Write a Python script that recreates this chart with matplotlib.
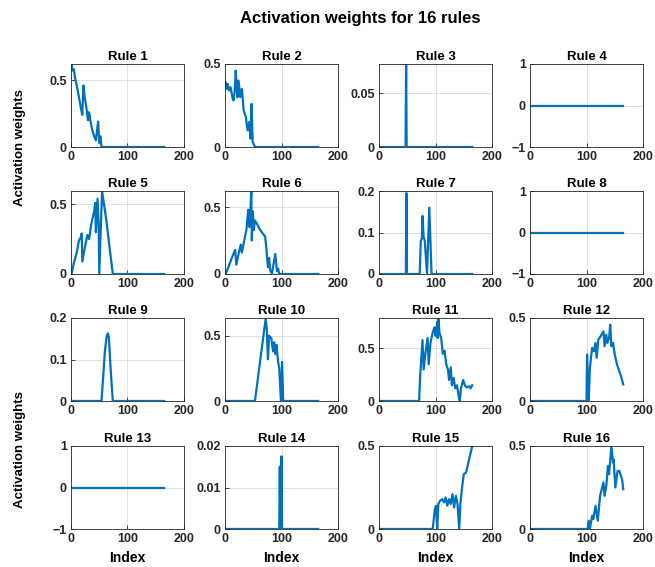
import numpy as np
import matplotlib
matplotlib.use("Agg")
import matplotlib.pyplot as plt

plt.rcParams['font.family'] = ['Liberation Sans', 'DejaVu Sans']
plt.rcParams['font.weight'] = 'bold'

# breakpoints (index, activation weight)
r1_x = [1, 3, 5, 7, 9, 12, 15, 18, 20, 22, 24, 27, 30, 32, 35, 38, 41, 44, 46, 48, 50, 52, 54, 165]
r1_y = [0.62, 0.57, 0.58, 0.52, 0.48, 0.42, 0.35, 0.28, 0.24, 0.46, 0.38, 0.30, 0.20, 0.26,
        0.18, 0.12, 0.08, 0.05, 0.12, 0.19, 0.03, 0.08, 0, 0]

r2_x = [1, 3, 5, 7, 10, 13, 15, 17, 19, 21, 22, 24, 27, 30, 33, 37, 40, 43, 45, 47, 49, 53, 165]
r2_y = [0.39, 0.35, 0.38, 0.34, 0.36, 0.30, 0.28, 0.33, 0.46, 0.35, 0.30, 0.40, 0.30, 0.35,
        0.22, 0.18, 0.10, 0.15, 0.05, 0.26, 0.03, 0, 0]

r3_x = [1, 47, 48, 49, 165]
r3_y = [0, 0, 0.077, 0, 0]

r4_x = [1, 165]
r4_y = [0, 0]

r5_x = [1, 5, 10, 14, 17, 19, 20, 25, 29, 32, 36, 41, 43, 44, 47, 49, 50, 55, 62, 68, 74, 165]
r5_y = [0, 0.08, 0.15, 0.24, 0.26, 0.29, 0.09, 0.20, 0.28, 0.25, 0.36, 0.45, 0.51, 0.30,
        0.54, 0.35, 0, 0.595, 0.40, 0.20, 0, 0]

r6_x = [1, 6, 12, 18, 20, 24, 28, 30, 34, 38, 41, 43, 45, 46.5, 47.5, 49, 51, 53, 56, 62,
        71, 73, 76, 78, 80, 83, 89, 92, 94, 96, 165]
r6_y = [0, 0.05, 0.12, 0.18, 0.07, 0.15, 0.22, 0.16, 0.25, 0.33, 0.48, 0.35, 0.48, 0.62,
        0.25, 0.47, 0.33, 0.40, 0.38, 0.33, 0.28, 0.20, 0.05, 0.12, 0.03, 0, 0.15, 0.02,
        0.04, 0, 0]

r7_x = [1, 47.5, 48.5, 49.5, 72, 74, 76, 77, 79, 81, 85, 89, 93, 165]
r7_y = [0, 0, 0.195, 0, 0, 0.08, 0.085, 0.14, 0.09, 0.08, 0, 0.16, 0, 0]

r8_x = [1, 165]
r8_y = [0, 0]

r9_x = [1, 54, 57, 60, 63, 65, 67, 70, 74, 165]
r9_y = [0, 0, 0.06, 0.12, 0.155, 0.163, 0.155, 0.08, 0, 0]

r10_x = [1, 53, 62, 72, 74, 76, 78, 82, 85, 87, 89, 91, 94, 96, 99, 101, 103, 165]
r10_y = [0, 0, 0.30, 0.63, 0.55, 0.32, 0.50, 0.48, 0.38, 0.45, 0.36, 0.43, 0.30, 0.25,
         0, 0.30, 0, 0]

r11_x = [1, 71, 73, 77, 79, 82, 86, 88, 91, 95, 98, 100, 103, 104, 105, 107, 110, 113, 116,
         119, 122, 124, 127, 129, 132, 135, 138, 141, 143, 145, 149, 152, 155, 160, 162, 165]
r11_y = [0, 0, 0.25, 0.58, 0.30, 0.45, 0.60, 0.35, 0.55, 0.65, 0.70, 0.62, 0.75, 0.60, 0.79,
         0.65, 0.60, 0.45, 0.48, 0.35, 0.30, 0.20, 0.32, 0.15, 0.22, 0.12, 0.15, 0.05, 0,
         0.12, 0.20, 0.15, 0.13, 0.14, 0.12, 0.15]

r12_x = [1, 100, 101, 103, 104, 106, 110, 113, 116, 118, 121, 125, 130, 132, 135, 137, 140,
         142, 144, 147, 150, 154, 157, 161, 165]
r12_y = [0, 0, 0.28, 0.05, 0, 0.20, 0.32, 0.30, 0.35, 0.26, 0.37, 0.39, 0.42, 0.33, 0.40,
         0.35, 0.38, 0.46, 0.33, 0.35, 0.28, 0.22, 0.19, 0.15, 0.10]

r13_x = [1, 165]
r13_y = [0, 0]

r14_x = [1, 96, 97, 98, 99, 100, 101, 165]
r14_y = [0, 0, 0.015, 0.0005, 0, 0.0175, 0, 0]

r15_x = [1, 95, 99, 101, 103, 105, 108, 112, 115, 118, 121, 124, 127, 130, 133, 136, 139,
         142, 144, 147, 150, 154, 165]
r15_y = [0, 0, 0.12, 0.14, 0, 0.15, 0.17, 0.18, 0.16, 0.19, 0.14, 0.18, 0.15, 0.21, 0.13,
         0.20, 0.15, 0, 0.15, 0.25, 0.33, 0.34, 0.50]

r16_x = [1, 102, 104, 106, 110, 112, 116, 120, 124, 130, 132, 135, 138, 140, 144, 147, 148,
         151, 155, 158, 163, 165]
r16_y = [0, 0, 0.05, 0, 0.08, 0.06, 0.14, 0.05, 0.20, 0.28, 0.20, 0.26, 0.38, 0.33, 0.50,
         0.40, 0.42, 0.25, 0.35, 0.35, 0.30, 0.24]

series = [(r1_x, r1_y), (r2_x, r2_y), (r3_x, r3_y), (r4_x, r4_y),
          (r5_x, r5_y), (r6_x, r6_y), (r7_x, r7_y), (r8_x, r8_y),
          (r9_x, r9_y), (r10_x, r10_y), (r11_x, r11_y), (r12_x, r12_y),
          (r13_x, r13_y), (r14_x, r14_y), (r15_x, r15_y), (r16_x, r16_y)]

ylims = [(0, 0.62), (0, 0.5), (0, 0.077), (-1, 1),
         (0, 0.595), (0, 0.62), (0, 0.2), (-1, 1),
         (0, 0.2), (0, 0.636), (0, 0.79), (0, 0.5),
         (-1, 1), (0, 0.02), (0, 0.5), (0, 0.5)]
yticks = [[0, 0.5], [0, 0.5], [0, 0.05], [-1, 0, 1],
          [0, 0.5], [0, 0.5], [0, 0.1, 0.2], [-1, 0, 1],
          [0, 0.1, 0.2], [0, 0.5], [0, 0.5], [0, 0.5],
          [-1, 0, 1], [0, 0.01, 0.02], [0, 0.5], [0, 0.5]]

W, H = 655, 567
fig = plt.figure(figsize=(W / 100, H / 100), dpi=100)

col_left = [71, 225, 379, 530]
row_top = [64, 191, 318, 446]
aw, ah = 113, 83
blue = '#0072BD'

for i, (xs, ys) in enumerate(series):
    r, c = divmod(i, 4)
    ax = fig.add_axes([col_left[c] / W, 1 - (row_top[r] + ah) / H, aw / W, ah / H])
    ax.plot(xs, ys, color=blue, lw=1.6)
    ax.set_xlim(0, 200)
    ax.set_ylim(*ylims[i])
    ax.set_xticks([0, 100, 200])
    ax.set_yticks(yticks[i])
    ax.set_yticklabels([f'{t:g}'.replace('-', '\u2212') for t in yticks[i]])
    ax.tick_params(direction='in', length=3, labelsize=9, width=0.6, colors='#262626',
                   pad=3)
    for lab in ax.get_xticklabels() + ax.get_yticklabels():
        lab.set_fontweight('bold')
    ax.grid(True, color='#dcdcdc', lw=0.6)
    for s in ax.spines.values():
        s.set_color('#262626')
        s.set_linewidth(0.6)
    ax.set_title(f'Rule {i + 1}', fontsize=9.5, fontweight='bold', pad=3)
    if r == 3:
        ax.set_xlabel('Index', fontsize=10, fontweight='bold', labelpad=4)

fig.text(0.55, 1 - 18 / H, 'Activation weights for 16 rules', ha='center', va='center',
         fontsize=12, fontweight='bold')
fig.text(20 / W, 1 - 148 / H, 'Activation weights', rotation=90, ha='center', va='center',
         fontsize=9.5, fontweight='bold')
fig.text(20 / W, 1 - 450 / H, 'Activation weights', rotation=90, ha='center', va='center',
         fontsize=9.5, fontweight='bold')

fig.savefig('out.png', dpi=100)
